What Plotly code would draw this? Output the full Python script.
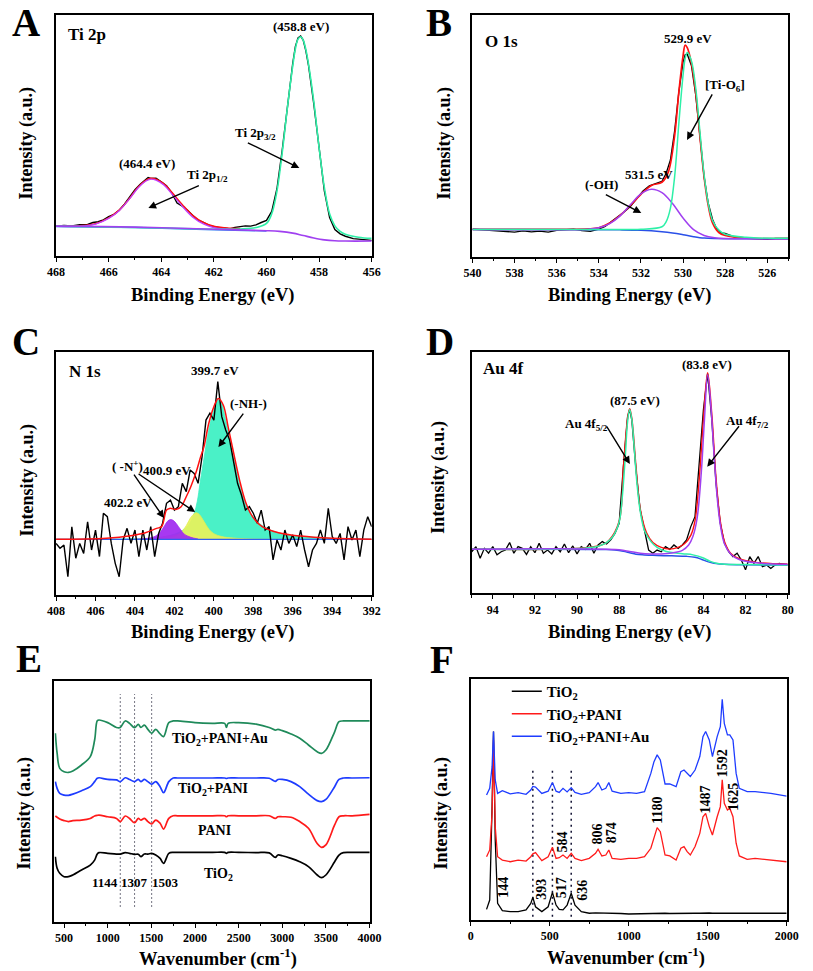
import plotly.graph_objects as go

# ---------------- Panel A : Ti 2p ----------------
A_raw_x = [468, 467.7, 467.4, 467.1, 466.8, 466.6, 466.4, 466.2, 466.0, 465.8, 465.6, 465.4, 465.2, 465.0, 464.8, 464.6, 464.5, 464.4, 464.2, 464.0, 463.8, 463.6, 463.4, 463.2, 463.0, 462.8, 462.6, 462.4, 462.2, 462.0, 461.8, 461.6, 461.4, 461.2, 461.0, 460.8, 460.6, 460.4, 460.2, 460.0, 459.8, 459.6, 459.4, 459.2, 459.0, 458.9, 458.8, 458.7, 458.6, 458.5, 458.4, 458.2, 458.0, 457.8, 457.6, 457.4, 457.2, 457.0, 456.7, 456.4, 456.0]
A_raw_y = [12.4, 12.7, 12.5, 13.0, 13.1, 13.9, 14.2, 15.0, 16.3, 17.3, 19.0, 21.5, 24.5, 27.5, 29.8, 31.5, 32.6, 32.2, 32.3, 30.8, 29.2, 26.2, 22.0, 20.7, 19.0, 16.8, 14.9, 14.0, 12.8, 12.2, 11.7, 11.6, 11.2, 11.9, 12.3, 12.5, 12.4, 12.9, 13.9, 14.8, 18.5, 28.0, 44.0, 63.0, 80.0, 87.0, 90.5, 91.3, 89.5, 85.0, 79.0, 63.0, 44.0, 27.0, 16.0, 11.0, 9.2, 8.2, 7.2, 6.8, 6.5]
A_p12_x = [468, 467, 466.5, 466, 465.6, 465.2, 464.9, 464.6, 464.4, 464.2, 463.9, 463.6, 463.2, 462.8, 462.4, 462, 461.5, 461]
A_p12_y = [12.3, 12.4, 13.2, 15.6, 18.8, 23.8, 28.0, 31.0, 31.9, 31.5, 29.5, 25.8, 20.6, 16.1, 13.3, 11.8, 11.2, 11.0]
A_env_x = [468, 467, 466.5, 466, 465.6, 465.2, 464.9, 464.6, 464.4, 464.2, 463.9, 463.6, 463.2, 462.8, 462.4, 462, 461.5, 461]
A_env_y = [12.4, 12.6, 13.4, 15.8, 19.0, 24.0, 28.3, 31.3, 32.2, 31.8, 29.9, 26.4, 21.3, 16.8, 13.9, 12.3, 11.6, 11.4]
A_p32_x = [468, 466, 464, 462, 461, 460.4, 460, 459.8, 459.6, 459.4, 459.2, 459, 458.9, 458.8, 458.7, 458.6, 458.5, 458.4, 458.2, 458, 457.8, 457.6, 457.4, 457.2, 457, 456.5, 456]
A_p32_y = [12.4, 12.0, 11.6, 11.1, 11.2, 11.8, 13.5, 17.5, 27, 43, 62, 79, 86, 90, 91, 89.5, 85.5, 79.5, 64, 45, 28.5, 17.5, 12.5, 10.2, 9.0, 7.8, 7.3]
A_bg_x = [468, 465, 462, 460, 459.5, 459, 458.6, 458.2, 457.8, 457.4, 457, 456]
A_bg_y = [12.4, 12.0, 11.1, 10.5, 10.2, 9.5, 8.5, 7.5, 6.7, 6.3, 6.2, 6.2]
A_bg2_x = [468, 465, 462, 460]
A_bg2_y = [12.2, 11.8, 10.9, 10.4]

# ---------------- Panel B : O 1s ----------------
B_raw_x = [540, 539.6, 539.2, 538.8, 538.4, 538, 537.6, 537.2, 536.8, 536.4, 536, 535.6, 535.2, 534.8, 534.4, 534, 533.7, 533.4, 533.1, 532.8, 532.5, 532.2, 531.9, 531.6, 531.3, 531, 530.8, 530.6, 530.4, 530.2, 530, 529.9, 529.8, 529.6, 529.4, 529.2, 529, 528.8, 528.6, 528.4, 528.2, 528, 527.6, 527.2, 526.8, 526.4, 526, 525.6, 525.2, 525]
B_raw_y = [11.4, 11.2, 11.0, 10.8, 10.6, 10.2, 10.7, 10.3, 10.6, 10.2, 10.9, 11.0, 11.4, 10.8, 10.5, 11.4, 12.5, 14.6, 16.5, 18.5, 20.8, 24.2, 27.2, 29.3, 30.2, 31.2, 34.5, 40.0, 52.0, 68.0, 80.5, 83.5, 83.8, 79.0, 67.0, 50.0, 33.0, 22.0, 15.5, 11.5, 9.8, 9.6, 8.3, 7.8, 7.5, 7.3, 7.2, 7.6, 7.7, 7.6]
B_env_x = [540, 536, 534.5, 534, 533.5, 533, 532.5, 532, 531.5, 531, 530.7, 530.4, 530.2, 530, 529.9, 529.8, 529.6, 529.4, 529.2, 529, 528.8, 528.6, 528.3, 528, 527, 525]
B_env_y = [11.3, 11.3, 11.5, 12.0, 13.8, 17.0, 21.2, 25.8, 29.5, 30.8, 35, 50, 68, 83, 87.5, 86.5, 80, 68, 50, 33, 21, 14, 10, 8.8, 7.7, 7.5]
B_oh_x = [540, 534.5, 534, 533.5, 533, 532.5, 532, 531.5, 531, 530.5, 530, 529.5, 529, 528.5, 528, 526, 525]
B_oh_y = [11.3, 11.4, 12.0, 13.6, 16.8, 21.5, 26.0, 27.9, 26.5, 22.0, 16.0, 11.2, 8.8, 7.8, 7.5, 7.4, 7.4]
B_tio_x = [540, 534, 532, 531, 530.8, 530.6, 530.4, 530.2, 530, 529.9, 529.8, 529.6, 529.4, 529.2, 529, 528.8, 528.6, 528.3, 528, 527, 525]
B_tio_y = [11.3, 11.3, 11.4, 12.4, 14.5, 20, 33, 55, 75, 82, 84.5, 81, 70, 52, 34, 22, 15, 11, 9.3, 8, 7.6]
B_bg_x = [540, 533, 532, 531, 530.5, 530, 529.5, 529, 528.5, 525]
B_bg_y = [11.3, 11.1, 10.9, 10.3, 9.8, 9.1, 8.3, 7.7, 7.5, 7.4]

# ---------------- Panel C : N 1s ----------------
C_raw_x = [408.0, 407.8, 407.6, 407.4, 407.2, 407.0, 406.8, 406.6, 406.4, 406.2, 406.0, 405.8, 405.6, 405.4, 405.2, 405.0, 404.8, 404.6, 404.4, 404.2, 404.0, 403.8, 403.6, 403.4, 403.2, 403.0, 402.8, 402.6, 402.4, 402.2, 402.0, 401.8, 401.6, 401.4, 401.2, 401.0, 400.8, 400.6, 400.4, 400.2, 400.0, 399.8, 399.6, 399.4, 399.2, 399.0, 398.8, 398.6, 398.4, 398.2, 398.0, 397.8, 397.6, 397.4, 397.2, 397.0, 396.8, 396.6, 396.4, 396.2, 396.0, 395.8, 395.6, 395.4, 395.2, 395.0, 394.8, 394.6, 394.4, 394.2, 394.0, 393.8, 393.6, 393.4, 393.2, 393.0, 392.8, 392.6, 392.4, 392.2, 392.0]
C_raw_y = [21.2, 19.2, 20.5, 7.5, 28.0, 15.1, 21.2, 17.1, 30.1, 18.5, 26.7, 15.8, 33.6, 32.2, 21.2, 13.0, 7.5, 22.6, 27.4, 21.2, 26.7, 15.8, 26.7, 18.5, 28.1, 15.8, 25.3, 29.5, 37.7, 39.0, 34.9, 36.3, 45.9, 42.5, 51.4, 50.0, 45.9, 56.8, 71.9, 74.7, 71.9, 87.7, 73.3, 67.8, 63.7, 55.5, 45.9, 41.1, 34.9, 36.3, 33.6, 29.5, 34.9, 26.7, 28.1, 14.4, 22.6, 18.5, 26.7, 21.2, 24.7, 19.9, 26.7, 18.5, 11.6, 18.5, 21.2, 26.7, 21.2, 35.6, 24.0, 21.2, 25.3, 14.4, 28.1, 22.6, 26.7, 15.8, 26.7, 32.2, 28.1]
C_nh_x = [408, 404, 403, 402.5, 402, 401.6, 401.3, 401.0, 400.84, 400.7, 400.5, 400.26, 400.0, 399.77, 399.6, 399.44, 399.19, 398.86, 398.53, 398.2, 397.7, 397.3, 396.9, 396.3, 395.6, 394.5, 393, 392]
C_nh_y = [22.9, 23.1, 23.4, 24.0, 25.0, 26.5, 28.5, 33.5, 38.5, 46, 56.2, 67.8, 76, 80.4, 78.8, 73.3, 63.7, 51.4, 40.4, 34.2, 29.5, 27.3, 26, 24.8, 24.2, 23.5, 23.1, 22.9]
C_n1_x = [403, 402.4, 402, 401.7, 401.4, 401.2, 401.0, 400.9, 400.75, 400.5, 400.25, 400.0, 399.6, 399.0, 398, 392]
C_n1_y = [22.9, 23.3, 24.0, 25.5, 28.5, 31.5, 33.4, 33.8, 33.2, 30.2, 27.0, 25.2, 24.0, 23.4, 23.0, 22.9]
C_n2_x = [404, 403.2, 402.9, 402.7, 402.5, 402.35, 402.2, 402.05, 401.9, 401.7, 401.5, 401.2, 400.8]
C_n2_y = [22.9, 23.5, 24.5, 26.0, 28.5, 30.3, 31.0, 30.6, 29.3, 27.0, 25.0, 23.8, 23.0]
C_n3_x = [404, 403, 402.5, 402, 401.6, 401.2, 400.8, 400.4, 400]
C_n3_y = [22.9, 23.4, 24.0, 24.7, 25.0, 24.7, 24.0, 23.4, 22.9]
C_env_x = [408, 405.45, 404.13, 403.47, 402.9, 402.65, 402.4, 402.24, 401.9, 401.66, 401.4, 401.17, 400.92, 400.67, 400.5, 400.26, 400.0, 399.77, 399.52, 399.28, 399.03, 398.7, 398.37, 398.04, 397.55, 396.72, 395.6, 394.0, 392]
C_env_y = [22.9, 23.3, 24.5, 25.6, 27.4, 28.1, 34.9, 35.6, 35.2, 36.3, 40.4, 44.5, 50.0, 56.8, 61.0, 70.5, 77.4, 80.8, 78.0, 69.2, 59.6, 47.3, 37.7, 32.2, 28.1, 25.6, 24.2, 23.3, 22.9]
C_base_x = [408, 392]
C_base_y = [22.9, 22.9]

# ---------------- Panel D : Au 4f ----------------
D_raw_x = [95.0, 94.8, 94.6, 94.4, 94.2, 94.0, 93.8, 93.6, 93.4, 93.2, 93.0, 92.8, 92.6, 92.4, 92.2, 92.0, 91.8, 91.6, 91.4, 91.2, 91.0, 90.8, 90.6, 90.4, 90.2, 90.0, 89.8, 89.6, 89.4, 89.2, 89.0, 88.8, 88.6, 88.4, 88.2, 88.0, 87.8, 87.6, 87.5, 87.4, 87.2, 87.0, 86.8, 86.6, 86.4, 86.2, 86.0, 85.8, 85.6, 85.4, 85.2, 85.0, 84.8, 84.6, 84.4, 84.2, 84.0, 83.8, 83.6, 83.4, 83.2, 83.0, 82.8, 82.6, 82.4, 82.2, 82.0, 81.8, 81.6, 81.4, 81.2, 81.0, 80.8, 80.6, 80.4, 80.2, 80.0]
D_raw_y = [17.2, 19.3, 14.5, 18.6, 16.6, 19.3, 15.9, 17.2, 17.9, 21.0, 16.6, 19.3, 18.6, 16.1, 19.3, 16.8, 20.7, 16.6, 17.9, 16.3, 19.3, 17.2, 20.4, 16.8, 19.6, 16.3, 19.3, 18.2, 20.7, 16.6, 20.0, 21.4, 20.4, 22.1, 24.8, 29.0, 52.4, 73.1, 76.1, 71.7, 51.0, 34.5, 26.2, 17.9, 16.6, 17.9, 17.2, 19.3, 18.2, 20.0, 18.6, 20.0, 22.1, 27.6, 31.7, 52.4, 75.9, 91.0, 71.7, 45.5, 29.0, 20.7, 17.2, 15.2, 16.6, 13.8, 9.7, 15.2, 12.4, 15.2, 11.0, 11.7, 10.3, 11.7, 12.4, 12.1, 11.7]
D_f52_x = [95, 90, 89, 88.6, 88.3, 88.0, 87.85, 87.7, 87.6, 87.5, 87.4, 87.3, 87.15, 87.0, 86.8, 86.5, 86.2, 85.8, 85.0, 84.5, 84.0, 83.7, 83.4, 83.0, 82.0, 81, 80]
D_f52_y = [18.2, 18.5, 19.5, 21.0, 23.5, 29.5, 40, 58, 71, 76.1, 72, 62, 45, 34, 26, 21.5, 19, 17.4, 16.4, 15.9, 14.6, 13.3, 12.4, 12.0, 11.9, 11.8, 11.7]
D_f72_x = [95, 88, 87.5, 87, 86.5, 86, 85.5, 85, 84.7, 84.5, 84.3, 84.1, 83.95, 83.8, 83.65, 83.5, 83.35, 83.2, 83.0, 82.7, 82.3, 81.5, 80]
D_f72_y = [18.2, 18.0, 17.3, 16.6, 16.3, 16.3, 16.7, 17.8, 20, 23.5, 31, 50, 72, 90.5, 78, 58, 40, 28.5, 20.5, 16.2, 14.0, 12.6, 12.0]
D_env_x = [95, 89, 88.5, 88.0, 87.8, 87.6, 87.5, 87.4, 87.2, 87.0, 86.7, 86.4, 86.0, 85.6, 85.2, 84.9, 84.6, 84.4, 84.2, 84.0, 83.8, 83.6, 83.4, 83.2, 83.0, 82.7, 82.3, 81.5, 80]
D_env_y = [18.3, 19.6, 21.8, 29.8, 52, 72.5, 76.4, 72.5, 52.5, 35, 25, 21, 19, 18.3, 19.0, 20.5, 24, 30, 47, 72, 91.3, 74, 47.5, 30, 21.5, 16.5, 14.3, 12.8, 12.1]
D_bg_x = [95, 88.6, 88.2, 87.8, 87.5, 87.2, 86.8, 86.4, 85.5, 84.8, 84.4, 84.1, 83.8, 83.5, 83.2, 82.8, 82, 80]
D_bg_y = [18.2, 18.1, 17.9, 17.4, 16.8, 16.2, 15.9, 15.7, 15.5, 15.3, 14.9, 14.1, 13.1, 12.4, 12.1, 11.9, 11.8, 11.7]

# ---------------- Panel E : FTIR ----------------
E_x = [400, 420, 450, 500, 550, 600, 700, 800, 850, 880, 900, 1000, 1100, 1144, 1200, 1250, 1307, 1350, 1380, 1420, 1460, 1503, 1550, 1600, 1640, 1700, 1750, 1800, 2000, 2200, 2340, 2360, 2380, 2500, 2700, 2850, 2920, 2950, 3000, 3100, 3200, 3300, 3400, 3450, 3500, 3600, 3650, 3700, 3800, 4000]
E_au = [78.3, 70.0, 63.7, 62.3, 62.0, 62.6, 65.1, 68.6, 75.5, 83.5, 83.8, 82.7, 80.7, 80.7, 83.4, 82.4, 80.6, 82.0, 80.7, 81.7, 79.9, 78.3, 79.9, 78.0, 76.9, 82.7, 83.4, 83.4, 82.7, 82.4, 82.4, 80.7, 82.4, 82.7, 82.1, 80.7, 79.6, 79.9, 79.4, 78.0, 76.2, 73.4, 70.6, 69.9, 71.3, 78.9, 83.1, 83.4, 83.4, 83.4]
E_pani_tio2 = [58.2, 55.4, 53.3, 52.6, 52.5, 53.0, 54.4, 56.1, 58.2, 59.6, 59.8, 59.1, 58.9, 58.2, 59.8, 59.1, 58.2, 59.1, 58.2, 59.1, 58.2, 57.1, 58.2, 56.1, 53.6, 58.2, 59.7, 59.7, 59.7, 59.7, 59.7, 59.5, 59.7, 59.7, 59.7, 59.6, 58.3, 59.1, 59.1, 58.2, 56.1, 53.0, 50.3, 49.9, 50.8, 56.1, 59.1, 59.7, 59.7, 59.8]
E_pani = [44.0, 43.4, 42.7, 42.0, 41.6, 42.0, 42.2, 42.9, 43.9, 44.2, 44.3, 43.6, 42.9, 41.6, 43.9, 42.9, 41.1, 42.9, 42.2, 42.9, 41.6, 40.6, 42.2, 40.9, 38.5, 42.9, 44.0, 44.0, 44.0, 44.0, 44.0, 43.6, 44.0, 44.0, 44.0, 44.0, 42.9, 43.6, 43.6, 43.4, 41.6, 38.8, 32.5, 30.9, 31.9, 40.2, 43.6, 44.0, 44.0, 44.6]
E_tio2 = [27.0, 22.2, 20.1, 18.7, 18.7, 19.4, 21.5, 23.5, 25.6, 28.1, 28.7, 28.4, 28.1, 28.1, 28.7, 28.4, 28.0, 28.0, 27.0, 28.1, 28.1, 28.4, 27.7, 26.3, 24.2, 28.4, 28.8, 28.8, 28.8, 28.8, 28.8, 28.4, 28.8, 28.8, 28.7, 28.6, 26.7, 27.7, 27.4, 26.3, 24.9, 22.9, 19.4, 18.3, 19.4, 24.9, 27.7, 28.7, 28.8, 28.8]
E_marks = [1144, 1307, 1503]

# ---------------- Panel F : Raman ----------------
F_x = [100, 120, 135, 144, 155, 170, 200, 250, 300, 350, 380, 393, 410, 450, 490, 517, 540, 560, 584, 610, 636, 660, 700, 750, 790, 806, 830, 855, 874, 895, 950, 1000, 1050, 1100, 1140, 1160, 1180, 1200, 1230, 1260, 1300, 1330, 1350, 1370, 1390, 1420, 1450, 1470, 1487, 1510, 1530, 1560, 1580, 1592, 1605, 1625, 1640, 1660, 1680, 1700, 1750, 1800, 1900, 2000]
F_tio2 = [4.4, 8.3, 47.1, 78.3, 33.2, 6.9, 3.9, 3.5, 3.5, 4.2, 6.9, 9.4, 5.5, 3.5, 5.5, 11.5, 6.2, 4.4, 4.2, 6.2, 11.1, 6.2, 3.5, 2.8, 3.0, 3.0, 3.0, 2.9, 2.9, 2.8, 2.7, 2.5, 2.6, 2.7, 2.7, 2.7, 2.8, 2.8, 2.8, 2.7, 2.8, 2.8, 2.8, 2.8, 2.8, 2.8, 2.8, 2.9, 3.0, 2.9, 2.8, 2.8, 2.8, 2.8, 2.8, 2.8, 2.8, 2.8, 2.8, 2.8, 2.8, 2.8, 2.8, 2.8]
F_pani = [26.3, 29.1, 44.3, 74.8, 38.8, 26.3, 24.9, 24.2, 24.9, 24.5, 26.3, 27.5, 28.0, 24.7, 26.3, 30.2, 25.6, 25.9, 27.0, 25.6, 27.7, 25.6, 24.7, 25.6, 27.7, 29.4, 26.6, 27.0, 29.1, 25.6, 25.2, 25.6, 25.6, 26.3, 29.8, 34.6, 38.4, 36.7, 27.0, 26.6, 24.9, 29.8, 30.5, 28.4, 27.0, 30.5, 36.0, 42.9, 44.3, 38.8, 35.3, 42.9, 47.1, 58.2, 48.5, 45.7, 46.4, 42.9, 31.9, 26.6, 25.2, 25.6, 24.9, 24.2]
F_au = [51.9, 54.7, 63.7, 78.3, 58.2, 52.6, 53.7, 52.4, 52.9, 52.2, 54.0, 55.5, 55.2, 52.6, 53.5, 57.1, 53.5, 53.0, 54.7, 53.2, 55.0, 53.0, 52.2, 52.9, 55.4, 57.1, 54.0, 54.7, 57.1, 53.5, 52.6, 52.9, 52.6, 53.3, 60.9, 65.8, 68.6, 66.5, 56.5, 56.5, 55.4, 61.6, 62.3, 60.9, 59.6, 62.3, 67.9, 76.2, 78.3, 74.8, 67.9, 76.2, 80.3, 91.7, 81.7, 76.9, 76.9, 74.8, 60.9, 54.7, 53.3, 53.3, 52.6, 51.5]
F_marks = [393, 517, 636]
F_peak_labels = ["144", "393", "517", "636", "584", "806", "874", "1180", "1487", "1592", "1625"]
F_peak_pos = [203, 450, 580, 709, 580, 802, 888, 1178, 1486, 1591, 1659]
F_peak_ht = [13.7, 12.9, 13.3, 12.5, 32.4, 35.7, 36.1, 45.7, 50.3, 65.2, 51.1]

# ---------------- figure ----------------
W, H = 813, 971
SERIF = "Liberation Serif"
fig = go.Figure()

def px_x(p):
    return p / W

def px_y(p):
    return 1 - p / H

panels = {
    1: dict(x=(48.3, 372.3), y=(15, 256), rng=[468, 456], dt=2, mdt=1),
    2: dict(x=(475.7, 800), y=(15, 256.7), rng=[540, 525], dt=2, mdt=1),
    3: dict(x=(48.3, 372.3), y=(351.7, 595), rng=[408, 392], dt=2, mdt=1),
    4: dict(x=(475, 799.3), y=(351.7, 593.3), rng=[95, 80], dt=2, mdt=1),
    5: dict(x=(46.7, 371), y=(681, 921.7), rng=[390, 4010], dt=500, mdt=250),
    6: dict(x=(474, 798.3), y=(679.3, 920), rng=[0, 2000], dt=500, mdt=250),
}

for i, p in panels.items():
    sx = "" if i == 1 else str(i)
    fig.layout["xaxis" + sx] = dict(
        domain=[px_x(p["x"][0]), px_x(p["x"][1])], range=p["rng"], anchor="y" + sx,
        showline=True, linecolor="black", linewidth=1.6, mirror=True, showgrid=False, zeroline=False,
        ticks="outside", ticklen=4, tickwidth=1.3, tickcolor="black", dtick=p["dt"],
        tick0=0, tickfont=dict(family=SERIF, size=12, color="black", weight="bold"),
        minor=dict(ticks="outside", ticklen=2.5, tickwidth=1.1, tickcolor="black", dtick=p["mdt"], showgrid=False),
    )
    fig.layout["yaxis" + sx] = dict(
        domain=[px_y(p["y"][1]), px_y(p["y"][0])], range=[0, 100], anchor="x" + sx,
        showline=True, linecolor="black", linewidth=1.6, mirror=True, showgrid=False, zeroline=False,
        showticklabels=False, ticks="",
    )

def add(x, y, color, ax, width=1.4, name=None, legend=False, shape="linear", dash=None, fill=None, fillcolor=None):
    sx = "" if ax == 1 else str(ax)
    fig.add_trace(go.Scatter(
        x=x, y=y, mode="lines", line=dict(color=color, width=width, shape=shape, dash=dash),
        xaxis="x" + sx, yaxis="y" + sx, name=name, showlegend=legend, hoverinfo="skip",
        fill=fill, fillcolor=fillcolor,
    ))

# A
add(A_bg2_x, A_bg2_y, "#2a7cf0", 1, 1.4, shape="spline")
add(A_raw_x, A_raw_y, "black", 1, 1.4)
add(A_env_x, A_env_y, "#ff1010", 1, 1.6, shape="spline")
add(A_p12_x, A_p12_y, "#c040ff", 1, 1.3, shape="spline")
add(A_p32_x, A_p32_y, "#2ef0a8", 1, 1.6, shape="spline")
add(A_bg_x, A_bg_y, "#a040f0", 1, 1.6, shape="spline")

# B
add(B_raw_x, B_raw_y, "black", 2, 1.3)
add(B_env_x, B_env_y, "#ff1010", 2, 1.7, shape="spline")
add(B_bg_x, B_bg_y, "#2a50e8", 2, 1.5, shape="spline")
add(B_oh_x, B_oh_y, "#a040f0", 2, 1.5, shape="spline")
add(B_tio_x, B_tio_y, "#2ef0a8", 2, 1.5, shape="spline")

# C
add(C_nh_x, C_nh_y, "#40f0c4", 3, 0.8, shape="spline", fill="toself", fillcolor="rgba(64,240,196,0.95)")
add(C_n3_x, C_n3_y, "#f4a0a8", 3, 0.6, shape="spline", fill="toself", fillcolor="rgba(244,160,168,0.9)")
add(C_n1_x, C_n1_y, "#e2f050", 3, 0.8, shape="spline", fill="toself", fillcolor="rgba(232,242,90,0.92)")
add(C_n2_x, C_n2_y, "#a028f0", 3, 0.8, shape="spline", fill="toself", fillcolor="rgba(160,40,240,0.92)")
add(C_base_x, C_base_y, "#3060f0", 3, 1.2)
add(C_raw_x, C_raw_y, "black", 3, 1.4)
add(C_env_x, C_env_y, "#ff1010", 3, 1.5, shape="spline")

# D
add(D_raw_x, D_raw_y, "black", 4, 1.3)
add(D_bg_x, D_bg_y, "#2a50e8", 4, 1.5, shape="spline")
add(D_env_x, D_env_y, "#ff1010", 4, 1.4, shape="spline")
add(D_f52_x, D_f52_y, "#2ef0a8", 4, 1.5, shape="spline")
add(D_f72_x, D_f72_y, "#a040f0", 4, 1.5, shape="spline")

# E
for m in E_marks:
    add([m, m], [6.2, 94.6], "#555566", 5, 1.1, dash="1.5px,2.5px")
add(E_x, E_tio2, "black", 5, 1.7, shape="spline")
add(E_x, E_pani, "#ff1a1a", 5, 1.7, shape="spline")
add(E_x, E_pani_tio2, "#1e3cff", 5, 1.7, shape="spline")
add(E_x, E_au, "#1f8a5a", 5, 1.7, shape="spline")

# F
for m in F_marks:
    add([m, m], [1.4, 63.7], "#111133", 6, 1.5, dash="2px,4px")
add(F_x, F_tio2, "black", 6, 1.3, name="TiO<sub>2</sub>", legend=True)
add(F_x, F_pani, "#ff1a1a", 6, 1.3, name="TiO<sub>2</sub>+PANI", legend=True)
add(F_x, F_au, "#1e3cff", 6, 1.3, name="TiO<sub>2</sub>+PANI+Au", legend=True)

ann = []

def txt(text, x, y, ax, size=13, angle=0, xanchor="center"):
    sx = "" if ax == 1 else str(ax)
    ann.append(dict(text="<b>" + text + "</b>", x=x, y=y, xref="x" + sx, yref="y" + sx, showarrow=False,
                    font=dict(family=SERIF, size=size, color="black"), textangle=angle, xanchor=xanchor))

def arrow(x, y, dx, dy, ax):
    sx = "" if ax == 1 else str(ax)
    ann.append(dict(text="", x=x, y=y, xref="x" + sx, yref="y" + sx, ax=dx, ay=dy, showarrow=True,
                    arrowhead=2, arrowsize=1.1, arrowwidth=1.4, arrowcolor="black", standoff=0, startstandoff=0))

def paper_txt(text, px, py, size, angle=0):
    ann.append(dict(text="<b>" + text + "</b>", x=px_x(px), y=px_y(py), xref="paper", yref="paper", showarrow=False,
                    font=dict(family=SERIF, size=size, color="black"), textangle=angle,
                    xanchor="center", yanchor="middle"))

# panel A texts
txt("Ti 2p", 467.64, 92.1, 1, 17, xanchor="left")
txt("(458.8 eV)", 458.68, 95.4, 1, 13)
txt("(464.4 eV)", 464.56, 38.2, 1, 13)
txt("Ti 2p<sub>1/2</sub>", 462.23, 33.6, 1, 13)
arrow(464.49, 19.9, 52, -23, 1)
txt("Ti 2p<sub>3/2</sub>", 460.42, 51.0, 1, 13)
arrow(458.75, 36.5, -53, -26, 1)

# panel B texts
txt("O 1s", 539.52, 89.2, 2, 17, xanchor="left")
txt("529.9 eV", 529.76, 90.1, 2, 13)
txt("[Ti-O<sub>6</sub>]", 528.0, 71.0, 2, 13)
arrow(529.81, 48.3, 26, -47, 2)
txt("531.5 eV", 531.6, 34.2, 2, 13)
txt("(-OH)", 533.88, 29.7, 2, 13)
arrow(531.98, 18.1, -37, -19, 2)

# panel C texts
txt("N 1s", 407.42, 91.7, 3, 17, xanchor="left")
txt("399.7 eV", 399.92, 92.1, 3, 13)
txt("(-NH-)", 398.24, 78.9, 3, 13)
arrow(399.77, 60.8, 26, -35, 3)
txt("( -N<sup>+</sup>)", 404.36, 53.0, 3, 13)
txt("400.9 eV", 402.38, 51.0, 3, 13)
txt("402.2 eV", 404.36, 38.2, 3, 13)
arrow(402.53, 31.6, -31, -45, 3)
arrow(400.95, 34.1, -58, -39, 3)

# panel D texts
txt("Au 4f", 94.58, 93.1, 4, 17, xanchor="left")
txt("(83.8 eV)", 83.82, 94.8, 4, 13)
txt("(87.5 eV)", 87.26, 80.0, 4, 13)
txt("Au 4f<sub>5/2</sub>", 89.57, 69.7, 4, 13)
arrow(87.49, 53.5, -24, -39, 4)
txt("Au 4f<sub>7/2</sub>", 81.9, 71.0, 4, 13)
arrow(83.82, 52.4, 33, -42, 4)

# panel E texts
txt("TiO<sub>2</sub>+PANI+Au", 2291, 75.9, 5, 14)
txt("TiO<sub>2</sub>+PANI", 2204, 55.1, 5, 14)
txt("PANI", 2226, 37.7, 5, 14)
txt("TiO<sub>2</sub>", 2268, 19.8, 5, 14)
for lab, xx in zip(["1144", "1307", "1503"], [974, 1308, 1665]):
    txt(lab, xx, 16.1, 5, 13)

# panel F peak labels
for lab, xx, yy in zip(F_peak_labels, F_peak_pos, F_peak_ht):
    txt(lab, xx, yy, 6, 14, angle=-90)

# panel letters
for L, cx, cy in [("A", 17.5, 22), ("B", 441.5, 22), ("C", 17.5, 341), ("D", 442, 342), ("E", 20.5, 658), ("F", 444, 659)]:
    paper_txt(L, cx, cy, 39)

# axis titles
for cx, cy in [(209, 295), (637, 295), (209, 632), (637, 632)]:
    paper_txt("Binding Energy (eV)", cx, cy, 18.5)
for cx, cy in [(215, 957), (633, 956)]:
    paper_txt("Wavenumber (cm<sup>-1</sup>)", cx, cy, 18.5)
for cx, cy in [(17, 143), (447, 143), (18, 480), (440, 477), (15, 813), (443, 813)]:
    paper_txt("Intensity (a.u.)", cx, cy, 18, angle=-90)

fig.update_layout(
    width=W, height=H, margin=dict(l=0, r=0, t=0, b=0),
    paper_bgcolor="white", plot_bgcolor="white",
    annotations=ann,
    legend=dict(x=px_x(511), y=px_y(675), xanchor="left", yanchor="top",
                font=dict(family=SERIF, size=15, color="black", weight="bold"),
                bgcolor="rgba(0,0,0,0)", borderwidth=0, tracegroupgap=0, itemwidth=30),
)

fig.write_html("out.html", config={"displayModeBar": False},
               post_script="document.body.style.margin='0px';document.body.style.padding='0px';")
